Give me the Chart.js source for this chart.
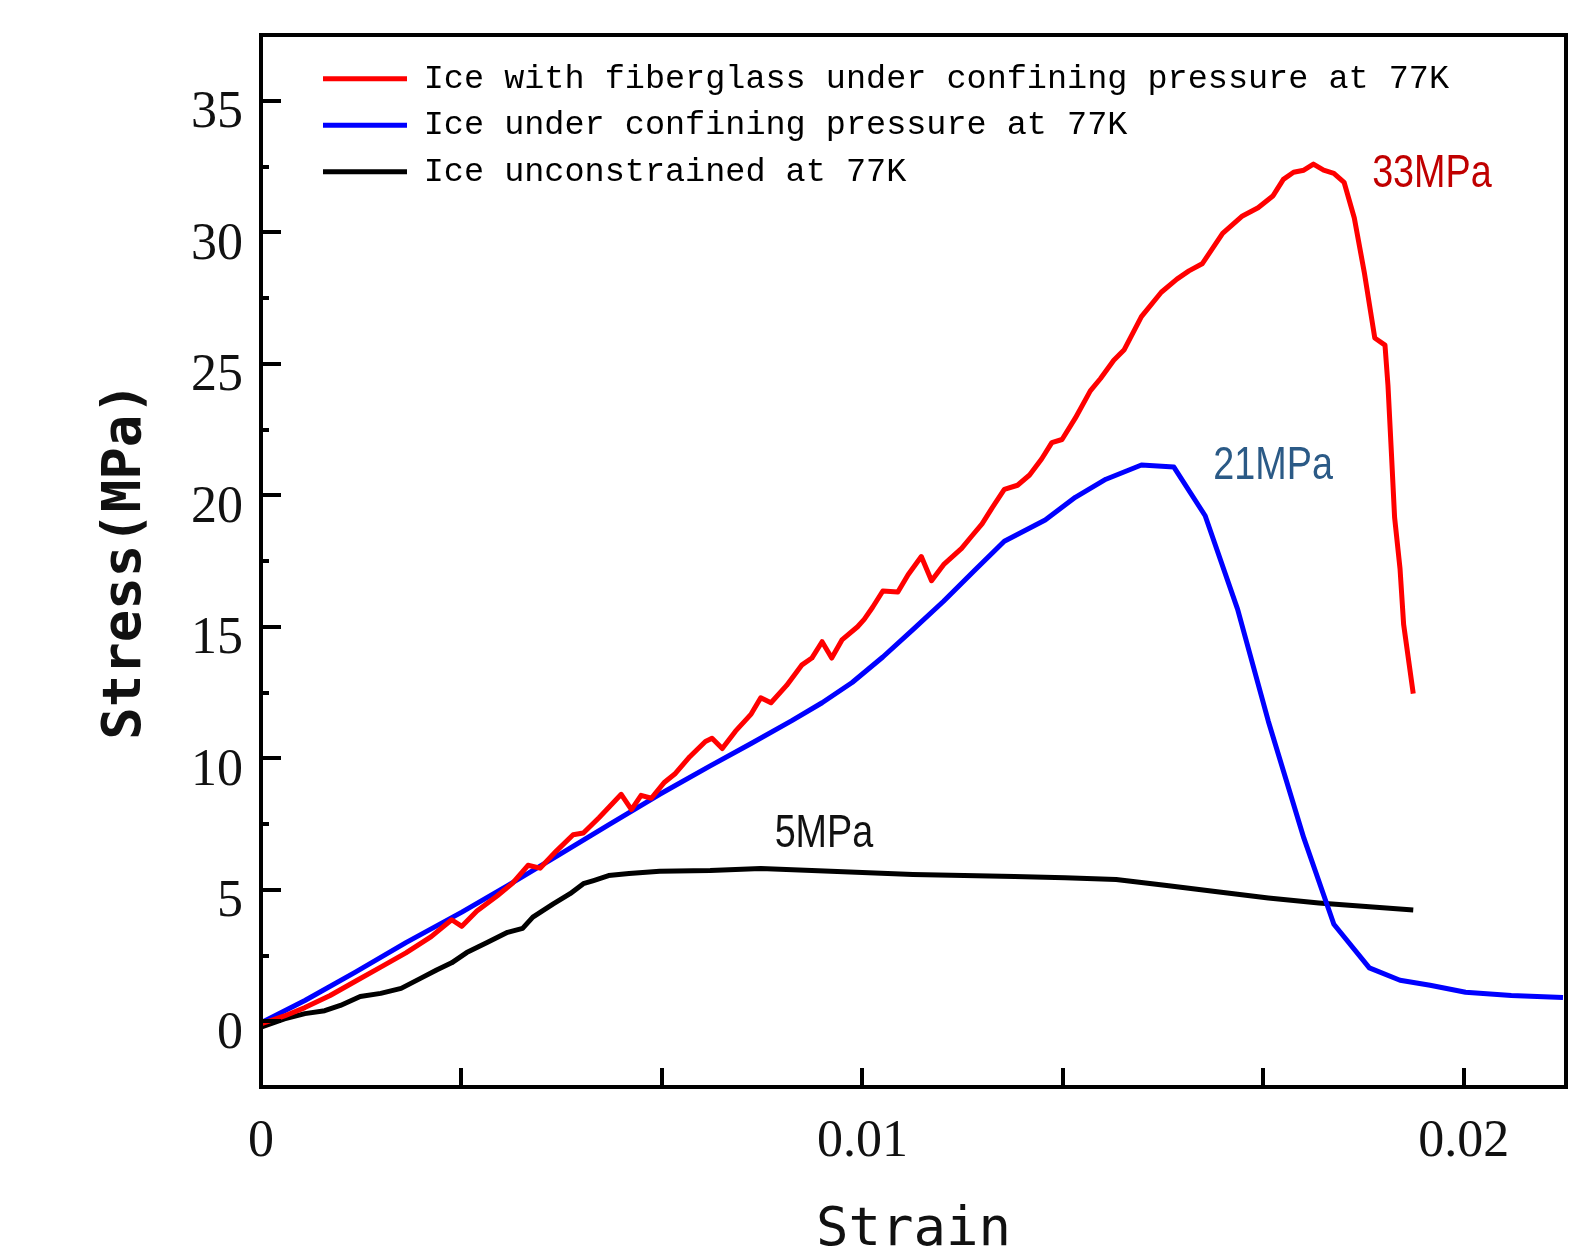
<!DOCTYPE html>
<html>
<head>
<meta charset="utf-8">
<title>Stress-strain of ice at 77K</title>
<script src="https://cdn.jsdelivr.net/npm/chart.js@4.4.1/dist/chart.umd.min.js"></script>
<style>
  html, body { margin: 0; padding: 0; background: #fff; }
  #wrap { width: 1593px; height: 1258px; }
</style>
</head>
<body>
<div id="wrap"><canvas id="stressChart" width="1593" height="1258"></canvas></div>
<script>
const seriesNames = [
    "Ice with fiberglass under confining pressure at 77K",
    "Ice under confining pressure at 77K",
    "Ice unconstrained at 77K",
];

// ice + fiberglass, confined
const fiberStrain = [
    0, 0.00039, 0.00073, 0.00115, 0.00157, 0.00199, 0.00241, 0.00283, 0.00317, 0.00334,
    0.00359, 0.00393, 0.00418, 0.00444, 0.00464, 0.00491, 0.00519, 0.00536, 0.00562, 0.00599,
    0.00616, 0.00632, 0.00649, 0.00671, 0.00688, 0.00713, 0.00739, 0.0075, 0.00767, 0.00789,
    0.00815, 0.00831, 0.00848, 0.00874, 0.00899, 0.00916, 0.00933, 0.00949, 0.00966, 0.00992,
    0.01003, 0.01017, 0.01034, 0.01059, 0.01076, 0.01098, 0.01115, 0.01135, 0.01165, 0.01182,
    0.01199, 0.01216, 0.01236, 0.01258, 0.01278, 0.01298, 0.01315, 0.01332, 0.01354, 0.01379,
    0.01396, 0.01418, 0.01435, 0.01464, 0.01497, 0.01523, 0.01543, 0.01565, 0.01599, 0.01632,
    0.01658, 0.01683, 0.017, 0.01717, 0.01734, 0.0175, 0.01767, 0.01784, 0.01801, 0.01818,
    0.01835, 0.01852, 0.01869, 0.01874, 0.0188, 0.01885, 0.01894, 0.019, 0.01916,
];
const fiberStress = [
    -0.1, 0.2, 0.52, 0.98, 1.52, 2.06, 2.6, 3.22, 3.86, 3.61,
    4.19, 4.77, 5.24, 5.93, 5.82, 6.47, 7.09, 7.16, 7.74, 8.63,
    8.05, 8.59, 8.48, 9.09, 9.4, 10.06, 10.64, 10.76, 10.37, 11.03,
    11.68, 12.3, 12.11, 12.77, 13.54, 13.81, 14.43, 13.81, 14.5, 15.0,
    15.28, 15.74, 16.36, 16.32, 16.98, 17.67, 16.75, 17.36, 17.98, 18.45,
    18.91, 19.53, 20.22, 20.38, 20.77, 21.38, 22.0, 22.12, 22.93, 23.97,
    24.44, 25.13, 25.52, 26.79, 27.72, 28.22, 28.53, 28.8, 29.96, 30.62,
    30.93, 31.39, 32.01, 32.28, 32.36, 32.59, 32.36, 32.24, 31.9, 30.54,
    28.42, 25.98, 25.71, 24.17, 21.46, 19.15, 17.21, 15.09, 12.46,
];

// plain ice, confined
const confinedStrain = [
    0, 0.00073, 0.00157, 0.00241, 0.00334, 0.0041, 0.00494, 0.00578, 0.00663, 0.00747,
    0.00815, 0.00882, 0.00933, 0.00983, 0.01034, 0.01084, 0.01135, 0.01186, 0.01236, 0.01304,
    0.01354, 0.01405, 0.01464, 0.01518, 0.0157, 0.01624, 0.01675, 0.01734, 0.01784, 0.01843,
    0.01894, 0.01944, 0.02003, 0.02079, 0.02165,
];
const confinedStress = [
    -0.06, 0.79, 1.87, 2.99, 4.15, 5.16, 6.31, 7.47, 8.63, 9.71,
    10.56, 11.42, 12.11, 12.88, 13.85, 14.89, 15.97, 17.13, 18.25, 19.06,
    19.92, 20.61, 21.15, 21.07, 19.22, 15.66, 11.41, 6.97, 3.69, 2.03,
    1.56, 1.37, 1.1, 0.98, 0.9,
];

// plain ice, unconstrained
const freeStrain = [
    0, 0.00039, 0.00073, 0.00106, 0.00132, 0.00165, 0.00199, 0.00233, 0.00266, 0.00292,
    0.00317, 0.00342, 0.00376, 0.0041, 0.00435, 0.00452, 0.00486, 0.00514, 0.00536, 0.00553,
    0.00578, 0.00612, 0.00663, 0.00747, 0.00831, 0.00916, 0.01, 0.01084, 0.01169, 0.01253,
    0.01337, 0.01422, 0.01506, 0.0159, 0.01675, 0.01759, 0.01843, 0.01916,
];
const freeStress = [
    -0.22, 0.09, 0.29, 0.4, 0.6, 0.94, 1.06, 1.25, 1.64, 1.95,
    2.22, 2.61, 2.99, 3.38, 3.53, 3.96, 4.46, 4.85, 5.23, 5.35,
    5.54, 5.62, 5.7, 5.73, 5.81, 5.73, 5.66, 5.58, 5.54, 5.5,
    5.46, 5.39, 5.16, 4.92, 4.69, 4.5, 4.35, 4.23,
];

const xTickLabels = [0, 0.01, 0.02];
const yTickLabels = [0, 5, 10, 15, 20, 25, 30, 35];

const toPoints = (xs, ys) => xs.map((x, i) => ({ x: x, y: ys[i] }));

// Origin style frame with inward ticks
const frameTicks = {
    id: "frameTicks",
    afterDatasetsDraw(chart) {
        const { ctx, chartArea: a, scales: { x, y } } = chart;
        ctx.save();
        ctx.strokeStyle = "#000";
        ctx.lineWidth = 4;
        ctx.beginPath();
        for (let i = 1; i * 0.01 / 3 < x.max; i++) {
            const px = Math.round(x.getPixelForValue(i * 0.01 / 3));
            ctx.moveTo(px, a.bottom);
            ctx.lineTo(px, a.bottom - 19);
        }
        for (let v = 0; v < y.max; v += 2.5) {
            const py = Math.round(y.getPixelForValue(v));
            ctx.moveTo(a.left, py);
            ctx.lineTo(a.left + (v % 5 === 0 ? 20 : 8), py);
        }
        ctx.stroke();
        ctx.strokeRect(a.left, a.top, a.right - a.left, a.bottom - a.top);
        ctx.restore();
    },
};

// peak value notes
const peakNotes = {
    id: "peakNotes",
    notes: [
        { text: "33MPa", x: 0.01947, y: 32.2, color: "#c00000" },
        { text: "21MPa", x: 0.01683, y: 21.1, color: "#2b5a86" },
        { text: "5MPa", x: 0.00936, y: 7.1, color: "#111" },
    ],
    afterDatasetsDraw(chart) {
        const { ctx, scales: { x, y } } = chart;
        ctx.save();
        ctx.font = '46px "Liberation Sans", Arial, sans-serif';
        ctx.textAlign = "center";
        ctx.textBaseline = "middle";
        this.notes.forEach((n) => {
            ctx.save();
            ctx.translate(x.getPixelForValue(n.x), y.getPixelForValue(n.y));
            ctx.scale(0.82, 1);
            ctx.fillStyle = n.color;
            ctx.fillText(n.text, 0, 0);
            ctx.restore();
        });
        ctx.restore();
    },
};

// move the chartArea legend into the upper left corner
const legendPlace = {
    id: "legendPlace",
    afterLayout(chart) {
        const lg = chart.legend;
        const a = chart.chartArea;
        const w = lg.width;
        lg.left = a.left + 49;
        lg.right = lg.left + w;
        lg.top = a.top + 14;
        lg.bottom = a.bottom;
    },
};

const data = {
    datasets: [
        {
            label: seriesNames[0],
            data: toPoints(fiberStrain, fiberStress),
            borderColor: "#ff0000",
            backgroundColor: "#ff0000",
            borderWidth: 5,
        },
        {
            label: seriesNames[1],
            data: toPoints(confinedStrain, confinedStress),
            borderColor: "#0000ff",
            backgroundColor: "#0000ff",
            borderWidth: 5,
        },
        {
            label: seriesNames[2],
            data: toPoints(freeStrain, freeStress),
            borderColor: "#000000",
            backgroundColor: "#000000",
            borderWidth: 5,
        },
    ],
};

const config = {
    type: "line",
    data: data,
    options: {
        responsive: false,
        animation: false,
        devicePixelRatio: 1,
        layout: { padding: { top: 35, right: 27, bottom: 0, left: 0 } },
        elements: {
            point: { radius: 0 },
            line: { tension: 0, borderJoinStyle: "round" },
        },
        plugins: {
            tooltip: { enabled: false },
            legend: {
                position: "chartArea",
                align: "start",
                labels: {
                    boxWidth: 84,
                    boxHeight: 5,
                    padding: 13,
                    color: "#000",
                    font: { family: '"Liberation Mono", monospace', size: 33.5 },
                    generateLabels(chart) {
                        return Chart.defaults.plugins.legend.labels
                            .generateLabels(chart)
                            .map((it) => ({ ...it, lineWidth: 0, fillStyle: it.strokeStyle }));
                    },
                },
            },
        },
        scales: {
            x: {
                type: "linear",
                min: 0,
                max: 0.0217,
                grid: { display: false },
                border: { display: false },
                afterBuildTicks: (s) => {
                    s.ticks = xTickLabels.map((v) => ({ value: v }));
                },
                afterFit: (s) => {
                    s.height = 171;
                    s.paddingLeft = 0;
                    s.paddingRight = 0;
                },
                ticks: {
                    autoSkip: false,
                    maxRotation: 0,
                    padding: 16,
                    color: "#111",
                    font: { family: '"Liberation Serif", serif', size: 52 },
                    callback: (v) => (v === 0 ? "0" : v.toFixed(2)),
                },
                title: {
                    display: true,
                    text: "Strain",
                    color: "#111",
                    font: { family: '"DejaVu Sans Mono", monospace', size: 54, lineHeight: 1 },
                    padding: { top: 0, bottom: 0 },
                },
            },
            y: {
                type: "linear",
                min: -2.5,
                max: 37.5,
                grid: { display: false },
                border: { display: false },
                afterBuildTicks: (s) => {
                    s.ticks = yTickLabels.map((v) => ({ value: v }));
                },
                afterFit: (s) => {
                    s.width = 261;
                    s.paddingTop = 0;
                    s.paddingBottom = 0;
                },
                ticks: {
                    padding: 10,
                    labelOffset: 13,
                    color: "#111",
                    font: { family: '"Liberation Serif", serif', size: 52 },
                },
                title: {
                    display: true,
                    text: "Stress(MPa)",
                    color: "#111",
                    font: { family: '"DejaVu Sans Mono", monospace', size: 54, weight: "bold" },
                    padding: { top: 94, bottom: 0 },
                },
            },
        },
    },
    plugins: [frameTicks, peakNotes, legendPlace],
};

const stressChart = document.getElementById("stressChart");
if (stressChart) {
    new Chart(stressChart, config);
}
</script>
</body>
</html>
